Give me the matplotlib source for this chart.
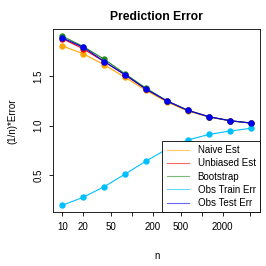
import matplotlib
matplotlib.use("Agg")
import matplotlib.pyplot as plt
from matplotlib.lines import Line2D

plt.rcParams['font.family'] = ['Liberation Sans', 'DejaVu Sans']

n = [10, 20, 40, 80, 160, 320, 640, 1280, 2560, 5120]
naive = [1.81, 1.73, 1.618, 1.49, 1.358, 1.24, 1.148, 1.088, 1.05, 1.026]
unbiased = [1.885, 1.78, 1.65, 1.515, 1.37, 1.25, 1.155, 1.091, 1.051, 1.027]
bootstrap = [1.909, 1.804, 1.675, 1.526, 1.38, 1.252, 1.156, 1.091, 1.051, 1.027]
train = [0.193, 0.274, 0.381, 0.51, 0.642, 0.764, 0.855, 0.912, 0.946, 0.974]
test = [1.891, 1.797, 1.652, 1.516, 1.371, 1.25, 1.155, 1.091, 1.051, 1.027]

labels = ["Naive Est", "Unbiased Est", "Bootstrap", "Obs Train Err", "Obs Test Err"]
colors = ["#FFA500", "#FF0000", "#228B22", "#00BFFF", "#0000EE"]
series = [naive, unbiased, bootstrap, train, test]

fig = plt.figure(figsize=(2.66, 2.66), dpi=100)
ax = fig.add_axes([53.3/266, 1 - 212.3/266, (260 - 53.3)/266, (212.3 - 29.3)/266])

for ys, c in zip(series, colors):
    ax.plot(n, ys, color=c, lw=0.8, marker='o', markersize=4.6, markeredgewidth=0)

ax.set_xscale('log')
ax.set_xlim(10 / 1.35, 5120 * 1.35)
ax.set_ylim(0.121, 1.979)
ax.set_xticks([10, 20, 50, 100, 200, 500, 1000, 2000, 5000])
ax.set_xticklabels(["10", "20", "50", "", "200", "500", "", "2000", ""])
ax.minorticks_off()
ax.set_yticks([0.5, 1.0, 1.5])
ax.set_yticklabels(["0.5", "1.0", "1.5"], rotation=90, va='center')
ax.tick_params(labelsize=7, length=3, width=0.6, pad=4)
for s in ax.spines.values():
    s.set_linewidth(0.6)

ax.set_title("Prediction Error", fontsize=8.7, fontweight='bold', pad=7)
ax.set_xlabel("n", fontsize=7, labelpad=14)
ax.set_ylabel("(1/n)*Error", fontsize=7, labelpad=12)

handles = [Line2D([], [], color=c, lw=0.8, alpha=0.6) for c in colors]
leg = ax.legend(handles, labels, loc='lower right', fontsize=7, frameon=True,
                fancybox=False, edgecolor='black', framealpha=1,
                borderaxespad=0, handlelength=2.3, labelspacing=0.33,
                borderpad=0.45, handletextpad=0.9)
leg.get_frame().set_linewidth(0.6)

fig.savefig("out.png", dpi=100)
